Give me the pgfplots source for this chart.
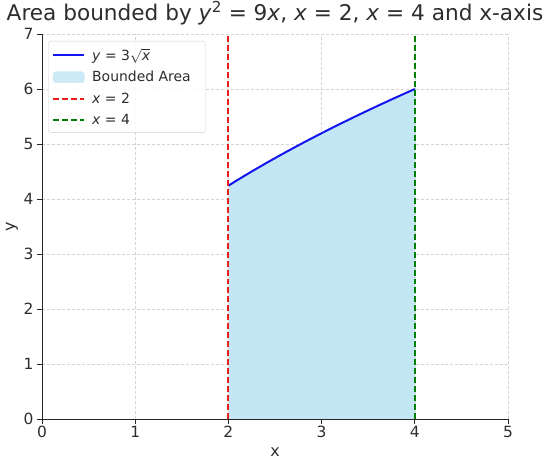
\documentclass[border=0pt]{standalone}
\usepackage{fontspec}
\setmainfont{DejaVu Sans}
\usepackage{pgfplots}
\pgfplotsset{compat=1.18}
\definecolor{fillblue}{RGB}{195,230,245}
\definecolor{gridgray}{RGB}{212,212,212}
\definecolor{textgray}{RGB}{45,45,45}
\definecolor{linered}{RGB}{235,30,30}
\definecolor{linegreen}{RGB}{0,128,0}
\definecolor{lineblue}{RGB}{20,20,240}
\begin{document}
\begin{tikzpicture}[x=1bp,y=1bp]
\path[use as bounding box] (-42,-49) rectangle (506,419);
\begin{axis}[
  at={(0,0)}, anchor=origin,
  scale only axis, width=466bp, height=385bp,
  xmin=0, xmax=5, ymin=0, ymax=7,
  axis lines=left,
  axis line style={-, line width=0.9pt, black!85},
  xtick={0,1,2,3,4,5}, ytick={0,1,2,3,4,5,6,7},
  tick style={black!85, line width=0.7pt},
  tick align=outside, major tick length=5bp,
  grid=major,
  major grid style={gridgray, dash pattern=on 3pt off 2pt, line width=0.6pt},
  ticklabel style={font=\fontsize{15.5}{18}\selectfont, text=textgray},
  xticklabel style={yshift=1bp},
  /pgf/number format/assume math mode=true,
  xlabel={x}, ylabel={y},
  label style={font=\fontsize{16}{18}\selectfont, text=textgray},
  xlabel style={at={(axis description cs:0.5,-0.0857)}, anchor=center},
  ylabel style={at={(axis description cs:-0.0644,0.5)}, anchor=center},
  title={Area bounded by \textit{y}\textsuperscript{2} = 9\textit{x}, \textit{x} = 2, \textit{x} = 4 and x-axis},
  title style={font=\fontsize{21.7}{24}\selectfont, text=textgray, at={(axis description cs:0.5,1)}, anchor=center, yshift=15bp},
  legend style={at={(0.0129,0.982)}, anchor=north west, font=\fontsize{14}{16}\selectfont,
    draw=black!18, rounded corners=3pt, fill=white, fill opacity=0.85, text opacity=1,
    row sep=5.5pt, column sep=5bp, inner xsep=4pt, inner ysep=5pt, text=textgray},
  legend cell align=left,
  legend image code/.code={\draw[#1] (0bp,0bp) -- (31bp,0bp);},
  clip=false,
]
\addplot[draw=none, fill=fillblue, forget plot] coordinates {
(2.0,0)(2.0,4.2426)(2.1,4.3474)(2.2,4.4497)(2.3,4.5497)(2.4,4.6476)(2.5,4.7434)
(2.6,4.8374)(2.7,4.9295)(2.8,5.0200)(2.9,5.1088)(3.0,5.1962)(3.1,5.2820)
(3.2,5.3666)(3.3,5.4498)(3.4,5.5317)(3.5,5.6125)(3.6,5.6921)(3.7,5.7706)
(3.8,5.8481)(3.9,5.9245)(4.0,6.0000)(4.0,0)} \closedcycle;
\addplot[lineblue, line width=2pt, forget plot] coordinates {
(2.0,4.2426)(2.1,4.3474)(2.2,4.4497)(2.3,4.5497)(2.4,4.6476)(2.5,4.7434)
(2.6,4.8374)(2.7,4.9295)(2.8,5.0200)(2.9,5.1088)(3.0,5.1962)(3.1,5.2820)
(3.2,5.3666)(3.3,5.4498)(3.4,5.5317)(3.5,5.6125)(3.6,5.6921)(3.7,5.7706)
(3.8,5.8481)(3.9,5.9245)(4.0,6.0000)};
\addplot[linered, line width=2pt, dash pattern=on 6pt off 3pt, forget plot] coordinates {(2,0)(2,7)};
\addplot[linegreen, line width=2pt, dash pattern=on 6pt off 3pt, forget plot] coordinates {(4,0)(4,7)};
\addlegendimage{lineblue, line width=2pt}
\addlegendentry{\textit{y} = 3$\sqrt{\mbox{\textit{x}}}$}
\addlegendimage{legend image code/.code={\fill[fillblue] (0bp,-5.5bp) rectangle (31bp,5.5bp);}}
\addlegendentry{Bounded Area\rule{9bp}{0pt}}
\addlegendimage{linered, line width=2pt, dash pattern=on 6pt off 3pt}
\addlegendentry{\textit{x} = 2}
\addlegendimage{linegreen, line width=2pt, dash pattern=on 6pt off 3pt}
\addlegendentry{\textit{x} = 4}
\end{axis}
\end{tikzpicture}
\end{document}
